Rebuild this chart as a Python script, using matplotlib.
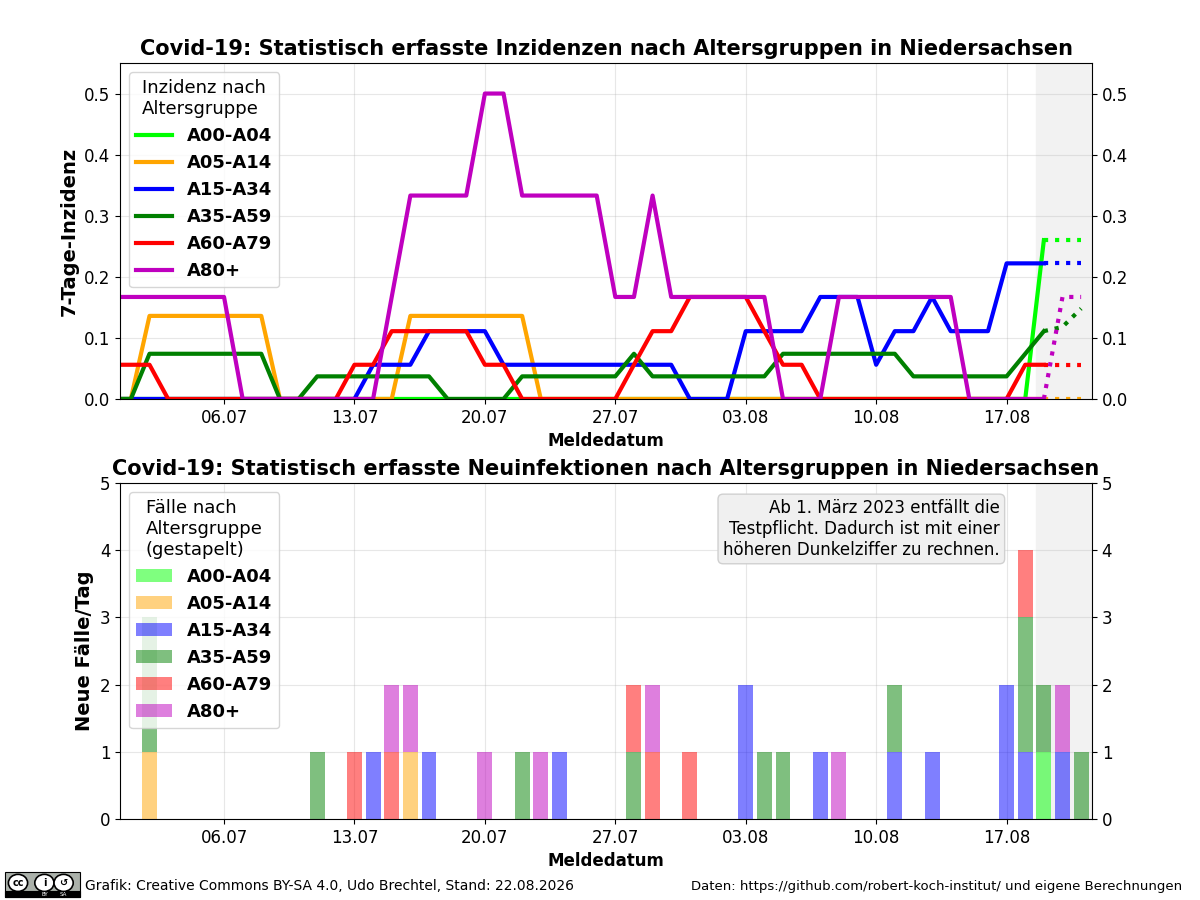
import datetime as dt

import matplotlib
matplotlib.use("Agg")
import matplotlib.pyplot as plt
import matplotlib.dates as mdates
import matplotlib.patches as mpatches
import numpy as np

# ---- data: 30.06. .. 21.08. (one value per day) ----
start = dt.datetime(2026, 6, 30)
dates = [start + dt.timedelta(days=i) for i in range(53)]

groups = ["A00-A04", "A05-A14", "A15-A34", "A35-A59", "A60-A79", "A80+"]
colors = ["lime", "orange", "blue", "green", "red", "m"]

# 7-Tage-Inzidenz
inz_a00 = [0, 0, 0, 0, 0, 0, 0,
           0, 0, 0, 0, 0, 0, 0,
           0, 0, 0, 0, 0, 0, 0,
           0, 0, 0, 0, 0, 0, 0,
           0, 0, 0, 0, 0, 0, 0,
           0, 0, 0, 0, 0, 0, 0,
           0, 0, 0, 0, 0, 0, 0,
           0, 0.26, 0.26, 0.26]
inz_a05 = [0, 0, 0.136, 0.136, 0.136, 0.136, 0.136,
           0.136, 0.136, 0, 0, 0, 0, 0,
           0, 0, 0.136, 0.136, 0.136, 0.136, 0.136,
           0.136, 0.136, 0, 0, 0, 0, 0,
           0, 0, 0, 0, 0, 0, 0,
           0, 0, 0, 0, 0, 0, 0,
           0, 0, 0, 0, 0, 0, 0,
           0, 0, 0, 0]
inz_a15 = [0, 0, 0, 0, 0, 0, 0,
           0, 0, 0, 0, 0, 0, 0,
           0.056, 0.056, 0.056, 0.111, 0.111, 0.111, 0.111,
           0.056, 0.056, 0.056, 0.056, 0.056, 0.056, 0.056,
           0.056, 0.056, 0.056, 0, 0, 0, 0.111,
           0.111, 0.111, 0.111, 0.167, 0.167, 0.167, 0.056,
           0.111, 0.111, 0.167, 0.111, 0.111, 0.111, 0.222,
           0.222, 0.222, 0.222, 0.222]
inz_a35 = [0, 0, 0.074, 0.074, 0.074, 0.074, 0.074,
           0.074, 0.074, 0, 0, 0.037, 0.037, 0.037,
           0.037, 0.037, 0.037, 0.037, 0, 0, 0,
           0, 0.037, 0.037, 0.037, 0.037, 0.037, 0.037,
           0.074, 0.037, 0.037, 0.037, 0.037, 0.037, 0.037,
           0.037, 0.074, 0.074, 0.074, 0.074, 0.074, 0.074,
           0.074, 0.037, 0.037, 0.037, 0.037, 0.037, 0.037,
           0.074, 0.111, 0.118, 0.148]
inz_a60 = [0.056, 0.056, 0.056, 0, 0, 0, 0,
           0, 0, 0, 0, 0, 0, 0.056,
           0.056, 0.111, 0.111, 0.111, 0.111, 0.111, 0.056,
           0.056, 0, 0, 0, 0, 0, 0,
           0.056, 0.111, 0.111, 0.167, 0.167, 0.167, 0.167,
           0.111, 0.056, 0.056, 0, 0, 0, 0,
           0, 0, 0, 0, 0, 0, 0,
           0.056, 0.056, 0.056, 0.056]
inz_a80 = [0.167, 0.167, 0.167, 0.167, 0.167, 0.167, 0.167,
           0, 0, 0, 0, 0, 0, 0,
           0, 0.167, 0.333, 0.333, 0.333, 0.333, 0.5,
           0.5, 0.333, 0.333, 0.333, 0.333, 0.333, 0.167,
           0.167, 0.333, 0.167, 0.167, 0.167, 0.167, 0.167,
           0.167, 0, 0, 0, 0.167, 0.167, 0.167,
           0.167, 0.167, 0.167, 0.167, 0, 0, 0,
           0, 0, 0.167, 0.167]

# Neue Faelle pro Tag
cases_a00 = [0] * 50 + [1, 0, 0]
cases_a05 = [0, 0, 1, 0, 0, 0, 0,
             0, 0, 0, 0, 0, 0, 0,
             0, 0, 1, 0, 0, 0, 0,
             0, 0, 0, 0, 0, 0, 0,
             0, 0, 0, 0, 0, 0, 0,
             0, 0, 0, 0, 0, 0, 0,
             0, 0, 0, 0, 0, 0, 0,
             0, 0, 0, 0]
cases_a15 = [0, 0, 0, 0, 0, 0, 0,
             0, 0, 0, 0, 0, 0, 0,
             1, 0, 0, 1, 0, 0, 0,
             0, 0, 0, 1, 0, 0, 0,
             0, 0, 0, 0, 0, 0, 2,
             0, 0, 0, 1, 0, 0, 0,
             1, 0, 1, 0, 0, 0, 2,
             1, 0, 1, 0]
cases_a35 = [0, 0, 2, 0, 0, 0, 0,
             0, 0, 0, 0, 1, 0, 0,
             0, 0, 0, 0, 0, 0, 0,
             0, 1, 0, 0, 0, 0, 0,
             1, 0, 0, 0, 0, 0, 0,
             1, 1, 0, 0, 0, 0, 0,
             1, 0, 0, 0, 0, 0, 0,
             2, 1, 0, 1]
cases_a60 = [0, 0, 0, 0, 0, 0, 0,
             0, 0, 0, 0, 0, 0, 1,
             0, 1, 0, 0, 0, 0, 0,
             0, 0, 0, 0, 0, 0, 0,
             1, 1, 0, 1, 0, 0, 0,
             0, 0, 0, 0, 0, 0, 0,
             0, 0, 0, 0, 0, 0, 0,
             1, 0, 0, 0]
cases_a80 = [0, 0, 0, 0, 0, 0, 0,
             0, 0, 0, 0, 0, 0, 0,
             0, 1, 1, 0, 0, 0, 1,
             0, 0, 1, 0, 0, 0, 0,
             0, 1, 0, 0, 0, 0, 0,
             0, 0, 0, 0, 1, 0, 0,
             0, 0, 0, 0, 0, 0, 0,
             0, 0, 1, 0]

inzidenz = [inz_a00, inz_a05, inz_a15, inz_a35, inz_a60, inz_a80]
cases = [cases_a00, cases_a05, cases_a15, cases_a35, cases_a60, cases_a80]

last_solid = 50  # index of 19.08., after that dotted
x_min = dt.datetime(2026, 6, 30, 10, 0)
x_max = dt.datetime(2026, 8, 21, 14, 0)
shade_from = dt.datetime(2026, 8, 18, 14, 0)

fig = plt.figure(figsize=(12, 9), dpi=100)
ax1 = fig.add_axes([0.1, 0.5567, 0.81, 0.3733])
ax2 = fig.add_axes([0.1, 0.09, 0.81, 0.3733])

# ---- Inzidenz ----
for name, col, y in zip(groups, colors, inzidenz):
    ax1.plot(dates[:last_solid + 1], y[:last_solid + 1], color=col, lw=3, label=name)
    ax1.plot(dates[last_solid:], y[last_solid:], color=col, lw=3, ls=":")

ax1.axvspan(shade_from, x_max, color="#f2f2f2", zorder=0)
ax1.set_ylim(0, 0.55)
ax1.set_yticks(np.arange(0, 0.51, 0.1))
ax1.set_title("Covid-19: Statistisch erfasste Inzidenzen nach Altersgruppen in Niedersachsen",
              fontsize=15, fontweight="bold")
ax1.set_ylabel("7-Tage-Inzidenz", fontsize=14, fontweight="bold")
ax1.legend(loc="upper left", title="Inzidenz nach\nAltersgruppe",
           prop={"weight": "bold", "size": 13}, title_fontsize=13)

# ---- Neue Faelle ----
bottom = np.zeros(len(dates))
for name, col, c in zip(groups, colors, cases):
    ax2.bar(dates, c, width=0.8, bottom=bottom, color=col, alpha=0.5, label=name)
    bottom += np.array(c)

ax2.axvspan(shade_from, x_max, color="#f2f2f2", zorder=0)
ax2.set_ylim(0, 5)
ax2.set_yticks(range(0, 6))
ax2.set_title("Covid-19: Statistisch erfasste Neuinfektionen nach Altersgruppen in Niedersachsen",
              fontsize=15, fontweight="bold")
ax2.set_ylabel("Neue Fälle/Tag", fontsize=14, fontweight="bold")
ax2.legend(loc="upper left", title="Fälle nach\nAltersgruppe\n(gestapelt)",
           prop={"weight": "bold", "size": 13}, title_fontsize=13)
ax2.text(0.905, 0.952, "Ab 1. März 2023 entfällt die\nTestpflicht. Dadurch ist mit einer\n"
         "höheren Dunkelziffer zu rechnen.", transform=ax2.transAxes,
         ha="right", va="top", fontsize=12, multialignment="right",
         bbox=dict(boxstyle="round", facecolor="#f0f0f0", edgecolor="#d0d0d0"))

for ax in (ax1, ax2):
    ax.set_xlim(x_min, x_max)
    ax.xaxis.set_major_locator(mdates.WeekdayLocator(byweekday=mdates.MO))
    ax.xaxis.set_major_formatter(mdates.DateFormatter("%d.%m"))
    ax.set_xlabel("Meldedatum", fontsize=12, fontweight="bold")
    ax.grid(True, alpha=0.3)
    ax.set_axisbelow(True)
    ax.tick_params(labelsize=12)
    ax.tick_params(axis="y", right=True, labelright=True)

# ---- Fusszeile ----
fig.patches.append(mpatches.Rectangle((0.004, 0.003), 0.063, 0.028, transform=fig.transFigure,
                                      facecolor="#abb1aa", edgecolor="black", lw=0.8))
fig.patches.append(mpatches.Rectangle((0.004, 0.003), 0.063, 0.007, transform=fig.transFigure,
                                      facecolor="black", edgecolor="black", lw=0.8))
for cx, txt in [(0.015, "cc"), (0.037, "i"), (0.053, "↺")]:
    fig.patches.append(mpatches.Ellipse((cx, 0.019), 0.016, 0.019, transform=fig.transFigure,
                                        facecolor="white", edgecolor="black", lw=1.2))
    fig.text(cx, 0.019, txt, fontsize=7, fontweight="bold", ha="center", va="center")
fig.text(0.037, 0.0065, "BY", fontsize=4, color="white", ha="center", va="center")
fig.text(0.053, 0.0065, "SA", fontsize=4, color="white", ha="center", va="center")
fig.text(0.071, 0.0155, "Grafik: Creative Commons BY-SA 4.0, Udo Brechtel, Stand: 22.08.2026",
         fontsize=10, va="center")
fig.text(0.985, 0.0155, "Daten: https://github.com/robert-koch-institut/ und eigene Berechnungen",
         fontsize=9.55, va="center", ha="right")

fig.savefig("out.png", dpi=100)
